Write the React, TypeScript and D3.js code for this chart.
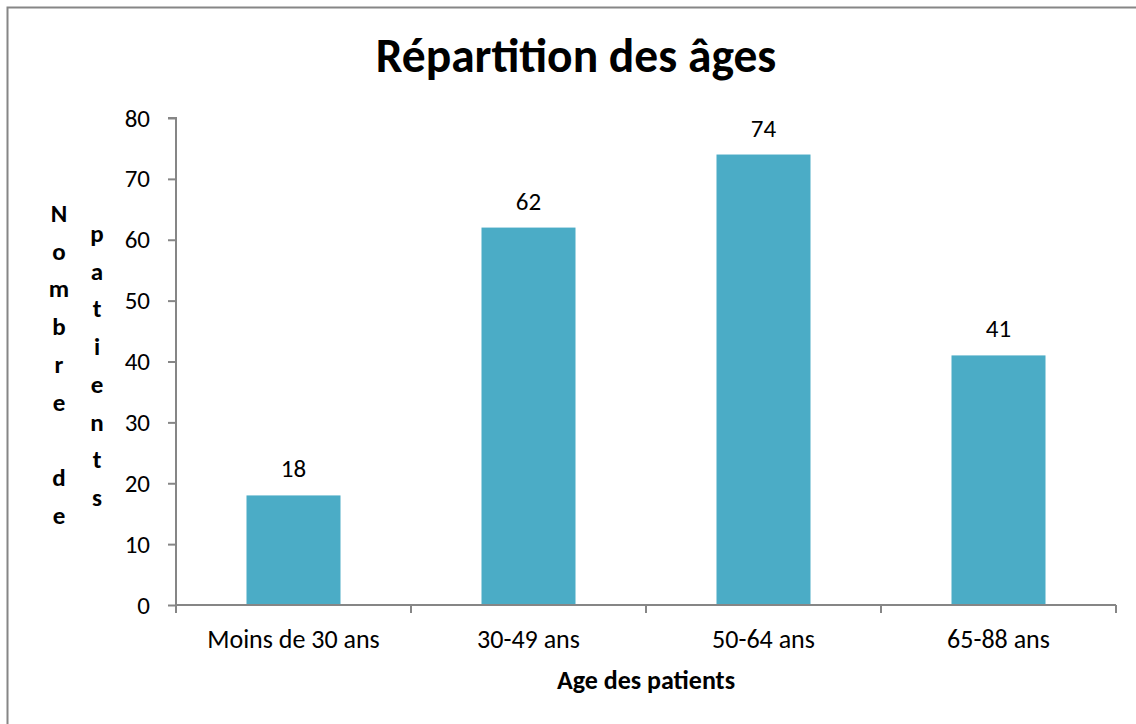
import React, { useEffect, useRef } from "react";
import * as d3 from "d3";

const categories = ["Moins de 30 ans", "30-49 ans", "50-64 ans", "65-88 ans"];
const patients = [18, 62, 74, 41];
const yTicks = [0, 10, 20, 30, 40, 50, 60, 70, 80];
const yLabelCol1 = ["N", "o", "m", "b", "r", "e", "", "d", "e"];
const yLabelCol2 = ["p", "a", "t", "i", "e", "n", "t", "s"];

const FONT = "Carlito, Calibri, Lato, 'Open Sans', sans-serif";

export default function App() {
  const ref = useRef<SVGSVGElement>(null);

  useEffect(() => {
    const width = 1136;
    const height = 724;
    const margin = { top: 118, right: 20, bottom: 119, left: 176 };

    const svg = d3.select(ref.current).html("");
    svg.attr("width", width).attr("height", height)
      .style("font-family", FONT);

    svg.append("rect")
      .attr("x", 7.5).attr("y", 7.5)
      .attr("width", width + 20).attr("height", height + 20)
      .attr("fill", "white")
      .attr("stroke", "#868686")
      .attr("stroke-width", 2);

    const x = d3.scaleBand()
      .domain(categories)
      .range([margin.left, margin.left + 940])
      .paddingInner(0.6)
      .paddingOuter(0.3);

    const y = d3.scaleLinear()
      .domain([0, 80])
      .range([height - margin.bottom, margin.top]);

    // title
    svg.append("text")
      .attr("x", 576).attr("y", 72)
      .attr("text-anchor", "middle")
      .attr("font-size", 47.5)
      .attr("font-weight", "bold")
      .text("Répartition des âges");

    // bars
    svg.selectAll(".bar")
      .data(patients)
      .join("rect")
      .attr("class", "bar")
      .attr("x", (d, i) => x(categories[i])!)
      .attr("width", x.bandwidth())
      .attr("y", d => y(d))
      .attr("height", d => y(0) - y(d))
      .attr("fill", "#4BACC6");

    svg.selectAll(".val")
      .data(patients)
      .join("text")
      .attr("class", "val")
      .attr("text-anchor", "middle")
      .attr("font-size", 25)
      .attr("x", (d, i) => x(categories[i])! + x.bandwidth() / 2)
      .attr("y", d => y(d) - 18)
      .text(d => d);

    // y axis
    const yAxis = svg.append("g")
      .attr("transform", `translate(${margin.left},0)`)
      .call(d3.axisLeft(y).tickValues(yTicks).tickSize(8).tickPadding(18));
    yAxis.selectAll("path, line").attr("stroke", "#868686").attr("stroke-width", 2);
    yAxis.select(".domain").attr("d", `M-8,${y(80)}H0V${y(0)}`);
    yAxis.selectAll("text")
      .attr("font-size", 25)
      .attr("font-family", FONT)
      .attr("fill", "black");

    // x axis with ticks at band boundaries
    const x0 = margin.left;
    const step = x.step();
    const bounds = d3.range(categories.length + 1).map(i => x0 + i * step);
    const xg = svg.append("g");
    xg.append("line")
      .attr("x1", x0).attr("x2", bounds[bounds.length - 1])
      .attr("y1", y(0)).attr("y2", y(0))
      .attr("stroke", "#868686").attr("stroke-width", 2);
    xg.selectAll(".xt")
      .data(bounds)
      .join("line")
      .attr("class", "xt")
      .attr("x1", d => d).attr("x2", d => d)
      .attr("y1", y(0)).attr("y2", y(0) + 8)
      .attr("stroke", "#868686").attr("stroke-width", 2);
    xg.selectAll(".xl")
      .data(categories)
      .join("text")
      .attr("class", "xl")
      .attr("text-anchor", "middle")
      .attr("font-size", 26)
      .attr("x", d => x(d)! + x.bandwidth() / 2)
      .attr("y", 648)
      .text(d => d);

    svg.append("text")
      .attr("x", (bounds[0] + bounds[bounds.length - 1]) / 2)
      .attr("y", 689)
      .attr("text-anchor", "middle")
      .attr("font-size", 26)
      .attr("font-weight", "bold")
      .text("Age des patients");

    // stacked y-axis title
    const col = (letters: string[], cx: number, top: number) => {
      svg.append("g").selectAll("text")
        .data(letters)
        .join("text")
        .attr("text-anchor", "middle")
        .attr("font-size", 25)
        .attr("font-weight", "bold")
        .attr("x", cx)
        .attr("y", (d, i) => top + i * 37.7)
        .text(d => d);
    };
    col(yLabelCol1, 59, 222);
    col(yLabelCol2, 97, 242);
  }, []);

  return (
    <svg ref={ref} style={{ position: "absolute", left: 0, top: 0 }} />
  );
}
